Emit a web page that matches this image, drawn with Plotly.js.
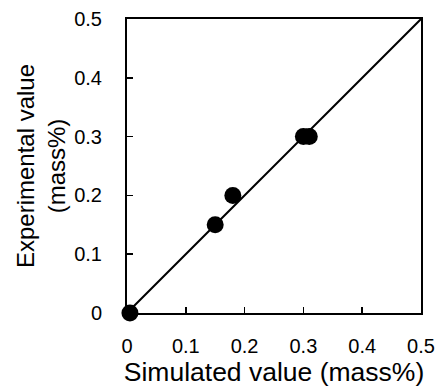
<!DOCTYPE html>
<html>
<head>
<meta charset="utf-8">
<script src="https://cdn.plot.ly/plotly-3.0.1.min.js"></script>
<style>html,body{margin:0;padding:0;background:#fff;}#chart{width:437px;height:387px;}</style>
</head>
<body>
<div id="chart"></div>
<script>
// Data
const simulated = [0.005, 0.15, 0.18, 0.30, 0.31];
const experimental = [0.0, 0.15, 0.20, 0.30, 0.30];
const parityX = [0, 0.5];
const parityY = [0, 0.5];
const tickVals = [0, 0.1, 0.2, 0.3, 0.4, 0.5];
const tickText = ['0', '0.1', '0.2', '0.3', '0.4', '0.5'];

const fontFam = 'Arial, "Liberation Sans", sans-serif';

const traces = [
  {
    x: parityX, y: parityY, type: 'scatter', mode: 'lines',
    line: {color: '#000', width: 2}, hoverinfo: 'skip', showlegend: false
  },
  {
    x: simulated, y: experimental, type: 'scatter', mode: 'markers',
    marker: {color: '#000', size: 17, line: {width: 0}}, showlegend: false, cliponaxis: false
  }
];

const axisCommon = {
  range: [0, 0.5],
  tickvals: tickVals, ticktext: tickText,
  ticks: 'inside', ticklen: 6, tickwidth: 1.5, tickcolor: '#000',
  showline: true, linecolor: '#000', linewidth: 2, mirror: true,
  showgrid: false, zeroline: false,
  tickfont: {family: fontFam, size: 20, color: '#000'},
  fixedrange: true
};

const layout = {
  width: 437, height: 387,
  margin: {l: 127, r: 16, t: 19, b: 74},
  paper_bgcolor: '#fff', plot_bgcolor: '#fff',
  showlegend: false,
  xaxis: Object.assign({}, axisCommon, {
    ticklabelstandoff: 14,
    title: {text: 'Simulated value (mass%)', font: {family: fontFam, size: 26.5, color: '#000'}, standoff: 6}
  }),
  yaxis: Object.assign({}, axisCommon, {
    ticklabelstandoff: 19,
    title: {text: 'Experimental value<br>(mass%)', font: {family: fontFam, size: 24, color: '#000'}, standoff: 2}
  })
};

Plotly.newPlot('chart', traces, layout, {displayModeBar: false, staticPlot: true});
</script>
</body>
</html>
